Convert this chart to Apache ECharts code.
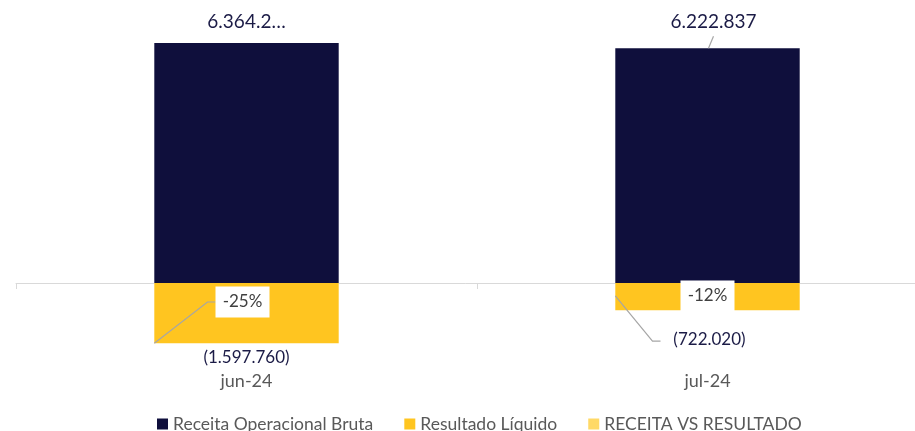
<!DOCTYPE html>
<html>
<head>
<meta charset="utf-8">
<script src="https://cdn.jsdelivr.net/npm/echarts@6/dist/echarts.min.js"></script>
<style>html,body{margin:0;padding:0;background:#fff}#c{width:915px;height:431px}</style>
</head>
<body>
<div id="c"></div>
<script>
const categories = ['jun-24', 'jul-24'];
const receita = [6364210, 6222837];
const resultado = [-1597760, -722020];
const receitaVsResultado = [-0.25, -0.12];
const seriesNames = ['Receita Operacional Bruta', 'Resultado Líquido', 'RECEITA VS RESULTADO'];

const NAVY = '#0f0f3c', YELLOW = '#ffc520', LIGHT = '#ffd966';
const FONT = 'Lato';
const GUIDE = '#a6a6a6';

function fmt(v) {
  const s = Math.abs(Math.round(v)).toString().replace(/\B(?=(\d{3})+(?!\d))/g, '.');
  return v < 0 ? '(' + s + ')' : s;
}
function pct(p) { return Math.round(p * 100) + '%'; }

const chart = echarts.init(document.getElementById('c'), null, {renderer: 'canvas'});

const option = {
  animation: false,
  backgroundColor: '#fff',
  grid: {left: 16, width: 922, top: 19, bottom: 67, containLabel: false, outerBoundsMode: 'none'},
  legend: {
    left: 152, top: 410,
    icon: 'rect', itemWidth: 11, itemHeight: 11, itemGap: 31,
    textStyle: {color: '#595959', fontSize: 17.5, fontFamily: FONT},
    data: seriesNames
  },
  xAxis: [{
    type: 'category', data: categories,
    axisLine: {onZero: true, lineStyle: {color: '#d9d9d9', width: 1}},
    axisTick: {show: true, length: 6, lineStyle: {color: '#d9d9d9'}},
    axisLabel: {show: false}
  }, {
    type: 'category', data: categories, position: 'bottom',
    axisLine: {show: false}, axisTick: {show: false},
    axisLabel: {color: '#595959', fontSize: 18, fontFamily: FONT, margin: 8}
  }],
  yAxis: {
    type: 'value', min: -2148000, max: 7000000, show: false,
    splitLine: {show: false}
  },
  series: [{
    name: seriesNames[0], type: 'bar', barWidth: '40%', barGap: '-100%',
    itemStyle: {color: NAVY},
    label: {show: true, position: 'top', distance: 12, color: '#1b1b46', fontSize: 19, fontFamily: FONT, formatter: p => fmt(p.value)},
    data: receita.map((v, i) => i === 0
      ? {value: v, label: {width: 82, overflow: 'truncate', ellipsis: '…'}}
      : {value: v, label: {offset: [6, -5]}})
  }, {
    name: seriesNames[1], type: 'bar', barWidth: '40%', barGap: '-100%',
    itemStyle: {color: YELLOW},
    label: {show: true, position: 'bottom', color: '#1b1b46', fontSize: 17, fontFamily: FONT, formatter: p => fmt(p.value)},
    data: resultado.map((v, i) => i === 0
      ? {value: v, label: {distance: 6}}
      : {value: v, label: {distance: 21, offset: [2, 0]}})
  }, {
    name: seriesNames[2], type: 'custom',
    itemStyle: {color: LIGHT},
    data: receitaVsResultado.map((p, i) => [i, p]),
    renderItem: function (params, api) {
      const i = params.dataIndex;
      const zero = api.coord([i, 0]);
      const base = api.coord([i, resultado[i]]);
      const top = api.coord([i, receita[i]]);
      const band = api.size([1, 0])[0];
      const half = band * 0.4 / 2;
      const cx = zero[0];
      const children = [];
      const guide = pts => ({type: 'polyline', shape: {points: pts}, style: {stroke: GUIDE, fill: null, lineWidth: 1.2}});
      let bx, by;
      if (i === 0) {
        bx = cx - 4; by = zero[1] + 19;
        children.push(guide([[cx - half, base[1]], [bx - 35, by], [bx - 27, by]]));
      } else {
        bx = cx; by = zero[1] + 13;
        children.push(guide([[cx - half, zero[1] + 13], [cx - 55, base[1] + 31], [cx - 47, base[1] + 31]]));
        children.push(guide([[cx + 6, top[1] - 12], [cx + 1, top[1]]]));
      }
      children.push({type: 'rect', shape: {x: bx - 27, y: by - 15.5, width: 54, height: 31}, style: {fill: '#fff'}});
      children.push({type: 'text', x: bx, y: by, style: {text: pct(api.value(1)), align: 'center', verticalAlign: 'middle', fill: '#404040', font: '17px ' + FONT}});
      return {type: 'group', children: children};
    },
    z: 5
  }]
};
chart.setOption(option);
</script>
</body>
</html>
